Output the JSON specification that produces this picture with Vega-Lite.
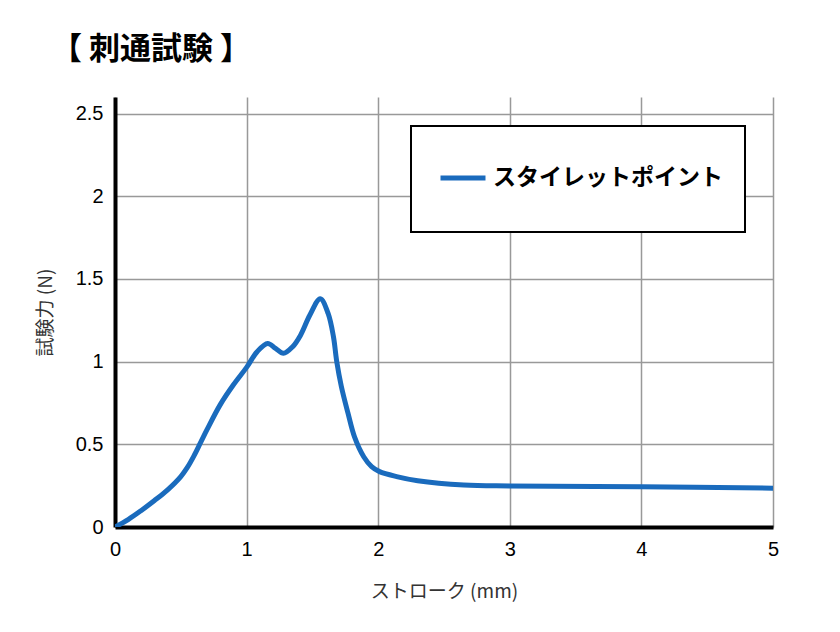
{
  "$schema": "https://vega.github.io/schema/vega-lite/v6.json",
  "width": 658,
  "height": 430,
  "autosize": {"type": "none"},
  "padding": {"left": 115, "top": 97, "right": 67, "bottom": 105},
  "background": "white",
  "title": {
    "text": "【 刺通試験 】",
    "anchor": "start",
    "frame": "group",
    "dx": -64,
    "offset": 31,
    "font": "Noto Sans CJK JP",
    "fontSize": 31,
    "fontWeight": "bold",
    "color": "#000000"
  },
  "data": {
    "values": [
      {"stroke": 0, "force": 0, "series": "スタイレットポイント"},
      {"stroke": 0.1, "force": 0.045, "series": "スタイレットポイント"},
      {"stroke": 0.2, "force": 0.1, "series": "スタイレットポイント"},
      {"stroke": 0.3, "force": 0.16, "series": "スタイレットポイント"},
      {"stroke": 0.4, "force": 0.225, "series": "スタイレットポイント"},
      {"stroke": 0.5, "force": 0.305, "series": "スタイレットポイント"},
      {"stroke": 0.55, "force": 0.36, "series": "スタイレットポイント"},
      {"stroke": 0.6, "force": 0.43, "series": "スタイレットポイント"},
      {"stroke": 0.65, "force": 0.51, "series": "スタイレットポイント"},
      {"stroke": 0.7, "force": 0.59, "series": "スタイレットポイント"},
      {"stroke": 0.8, "force": 0.74, "series": "スタイレットポイント"},
      {"stroke": 0.9, "force": 0.86, "series": "スタイレットポイント"},
      {"stroke": 1.0, "force": 0.965, "series": "スタイレットポイント"},
      {"stroke": 1.08, "force": 1.06, "series": "スタイレットポイント"},
      {"stroke": 1.16, "force": 1.11, "series": "スタイレットポイント"},
      {"stroke": 1.22, "force": 1.08, "series": "スタイレットポイント"},
      {"stroke": 1.28, "force": 1.05, "series": "スタイレットポイント"},
      {"stroke": 1.35, "force": 1.09, "series": "スタイレットポイント"},
      {"stroke": 1.41, "force": 1.16, "series": "スタイレットポイント"},
      {"stroke": 1.48, "force": 1.28, "series": "スタイレットポイント"},
      {"stroke": 1.56, "force": 1.38, "series": "スタイレットポイント"},
      {"stroke": 1.62, "force": 1.29, "series": "スタイレットポイント"},
      {"stroke": 1.66, "force": 1.15, "series": "スタイレットポイント"},
      {"stroke": 1.685, "force": 1.0, "series": "スタイレットポイント"},
      {"stroke": 1.72, "force": 0.85, "series": "スタイレットポイント"},
      {"stroke": 1.77, "force": 0.69, "series": "スタイレットポイント"},
      {"stroke": 1.82, "force": 0.545, "series": "スタイレットポイント"},
      {"stroke": 1.89, "force": 0.425, "series": "スタイレットポイント"},
      {"stroke": 1.95, "force": 0.365, "series": "スタイレットポイント"},
      {"stroke": 2.01, "force": 0.335, "series": "スタイレットポイント"},
      {"stroke": 2.14, "force": 0.305, "series": "スタイレットポイント"},
      {"stroke": 2.3, "force": 0.28, "series": "スタイレットポイント"},
      {"stroke": 2.65, "force": 0.254, "series": "スタイレットポイント"},
      {"stroke": 3, "force": 0.248, "series": "スタイレットポイント"},
      {"stroke": 4, "force": 0.243, "series": "スタイレットポイント"},
      {"stroke": 5, "force": 0.235, "series": "スタイレットポイント"}
    ]
  },
  "mark": {"type": "line", "interpolate": "catmull-rom", "strokeWidth": 5, "clip": true},
  "encoding": {
    "x": {
      "field": "stroke",
      "type": "quantitative",
      "scale": {"domain": [0, 5], "nice": false},
      "axis": {"values": [0, 1, 2, 3, 4, 5], "title": "ストローク (mm)", "titlePadding": 23, "labelFlush": false}
    },
    "y": {
      "field": "force",
      "type": "quantitative",
      "scale": {"domain": [0, 2.6], "nice": false},
      "axis": {"values": [0, 0.5, 1, 1.5, 2, 2.5], "labelExpr": "'' + datum.value", "title": "試験力 (N)", "titlePadding": 20}
    },
    "color": {
      "field": "series",
      "type": "nominal",
      "scale": {"range": ["#1a6bbd"]},
      "legend": {
        "title": null,
        "orient": "none",
        "legendX": 296,
        "legendY": 29,
        "symbolType": "M-0.818,-0.764M-0.818,0L0.818,0M0.818,0.764",
        "symbolSize": 3025,
        "symbolStrokeWidth": 5,
        "labelFont": "Noto Sans CJK JP",
        "labelFontSize": 23,
        "labelFontWeight": "bold",
        "labelColor": "#000000",
        "labelLimit": 0,
        "labelOffset": 0,
        "padding": 22,
        "strokeColor": "#000000",
        "fillColor": "white"
      }
    }
  },
  "config": {
    "view": {"stroke": null},
    "axis": {
      "domainColor": "#000000",
      "domainWidth": 4,
      "ticks": false,
      "gridColor": "#999999",
      "gridWidth": 1.5,
      "labelFont": "Liberation Sans",
      "labelFontSize": 20,
      "labelColor": "#000000",
      "labelPadding": 12,
      "titleFont": "Noto Sans CJK JP",
      "titleFontSize": 19,
      "titleFontWeight": "normal",
      "titleColor": "#333333"
    },
    "legend": {"strokeWidth": 2}
  }
}
